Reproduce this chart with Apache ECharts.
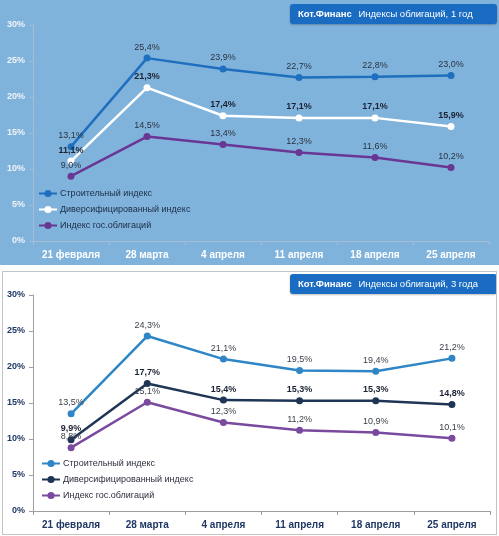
<!DOCTYPE html>
<html><head><meta charset="utf-8">
<script src="https://cdn.jsdelivr.net/npm/echarts@6/dist/echarts.min.js"></script>
<style>
html,body{margin:0;padding:0;background:#fff;width:499px;height:536px;overflow:hidden;}
#c1{position:absolute;left:0;top:0;width:499px;height:265px;}
#c2{position:absolute;left:2px;top:271px;width:493px;height:262px;border:1px solid #c4c4c4;}
</style></head>
<body>
<div id="c1"></div><div id="c2"></div>
<script>
const categories = ['21 февраля','28 марта','4 апреля','11 апреля','18 апреля','25 апреля'];
const seriesNames = ['Строительный индекс','Диверсифицированный индекс','Индекс гос.облигаций'];
const yTicks = [0,5,10,15,20,25,30];

const title1 = 'Индексы облигаций, 1 год';
const build1 = [13.1,25.4,23.9,22.7,22.8,23.0];
const divers1 = [11.1,21.3,17.4,17.1,17.1,15.9];
const gov1 = [9.0,14.5,13.4,12.3,11.6,10.2];

const title2 = 'Индексы облигаций, 3 года';
const build2 = [13.5,24.3,21.1,19.5,19.4,21.2];
const divers2 = [9.9,17.7,15.4,15.3,15.3,14.8];
const gov2 = [8.8,15.1,12.3,11.2,10.9,10.1];

const FONT = 'Liberation Sans';
const fmt = v => String(v.toFixed(1)).replace('.', ',') + '%';

function makeOption(cfg){
  const mk = (name, data, color, bold, labelColor) => ({
    name, type:'line', data,
    symbol:'circle', symbolSize:7,
    lineStyle:{color, width:2.5},
    itemStyle:{color},
    label:{show:true, position:'top', distance:3, fontFamily:FONT, fontSize:9,
      fontWeight: bold?'bold':'normal', color: labelColor,
      formatter: p => fmt(p.value)},
    emphasis:{disabled:true}, animation:false
  });
  return {
    animation:false,
    backgroundColor: cfg.bg,
    grid:{left:cfg.left, right:cfg.right, top:cfg.top, height:216},
    legend:{orient:'vertical', left:cfg.legendLeft, top:cfg.legendTop, itemGap:7, itemWidth:18, itemHeight:9,
      textStyle:{fontFamily:FONT, fontSize:9, color:cfg.legendColor, padding:[0,0,0,-2]},
      data: seriesNames, selectedMode:false},
    xAxis:{type:'category', data:categories, boundaryGap:true,
      axisLine:{lineStyle:{color:cfg.axisColor, width:1}},
      axisTick:{show:true, length:4, lineStyle:{color:cfg.axisColor}},
      axisLabel:{fontFamily:FONT, fontSize:10, fontWeight:'bold', color:cfg.xLabelColor, margin:9}},
    yAxis:{type:'value', min:yTicks[0], max:yTicks[yTicks.length-1], interval:5,
      axisLine:{show:true, lineStyle:{color:cfg.axisColor}},
      axisTick:{show:true, length:4, lineStyle:{color:cfg.axisColor}},
      splitLine:{show:false},
      axisLabel:{fontFamily:FONT, fontSize:9, fontWeight:'bold', color:cfg.yLabelColor, margin:8, formatter:'{value}%'}},
    graphic:[{
      type:'group', left:cfg.badgeX, top:cfg.badgeY,
      children:[
        {type:'rect', shape:{x:0,y:0,width:cfg.badgeW,height:20,r:3}, style:{fill:'#1a6cc2', shadowBlur:2, shadowColor:'rgba(0,0,0,0.25)', shadowOffsetY:1}},
        {type:'text', x:8, y:10, style:{text:'{b|Кот.Финанс}  {n|'+cfg.title+'}', verticalAlign:'middle',
          rich:{b:{fontFamily:FONT, fontSize:9.5, fontWeight:'bold', fill:'#ffffff'},
                n:{fontFamily:FONT, fontSize:9.5, fill:'#ffffff'}}}}
      ]}],
    series:[
      mk(seriesNames[0], cfg.d[0], cfg.colors[0], false, cfg.lab[0]),
      mk(seriesNames[1], cfg.d[1], cfg.colors[1], true, cfg.lab[1]),
      mk(seriesNames[2], cfg.d[2], cfg.colors[2], false, cfg.lab[2])
    ]
  };
}

const ch1 = echarts.init(document.getElementById('c1'), null, {renderer:'canvas'});
ch1.setOption(makeOption({
  bg:'#80b3dc', left:33, right:10, top:25,
  legendLeft:33, legendTop:184, legendColor:'#1c2b45',
  axisColor:'#a7bdd3', xLabelColor:'#ffffff', yLabelColor:'#eef4fa',
  badgeX:290, badgeY:4, badgeW:207, title:title1,
  d:[build1, divers1, gov1],
  colors:['#1f6fbf','#ffffff','#6a3693'],
  lab:['#2a3340','#1a2233','#2a3340']
}));

const ch2 = echarts.init(document.getElementById('c2'), null, {renderer:'canvas'});
ch2.setOption(makeOption({
  bg:'#ffffff', left:30, right:6, top:23,
  legendLeft:33, legendTop:182, legendColor:'#2a2f3a',
  axisColor:'#a0a0a0', xLabelColor:'#1f3864', yLabelColor:'#1f3864',
  badgeX:287, badgeY:2, badgeW:207, title:title2,
  d:[build2, divers2, gov2],
  colors:['#2e86c6','#1f3556','#7a4a9e'],
  lab:['#3a3f48','#1a2233','#3a3f48']
}));
</script>
</body></html>
